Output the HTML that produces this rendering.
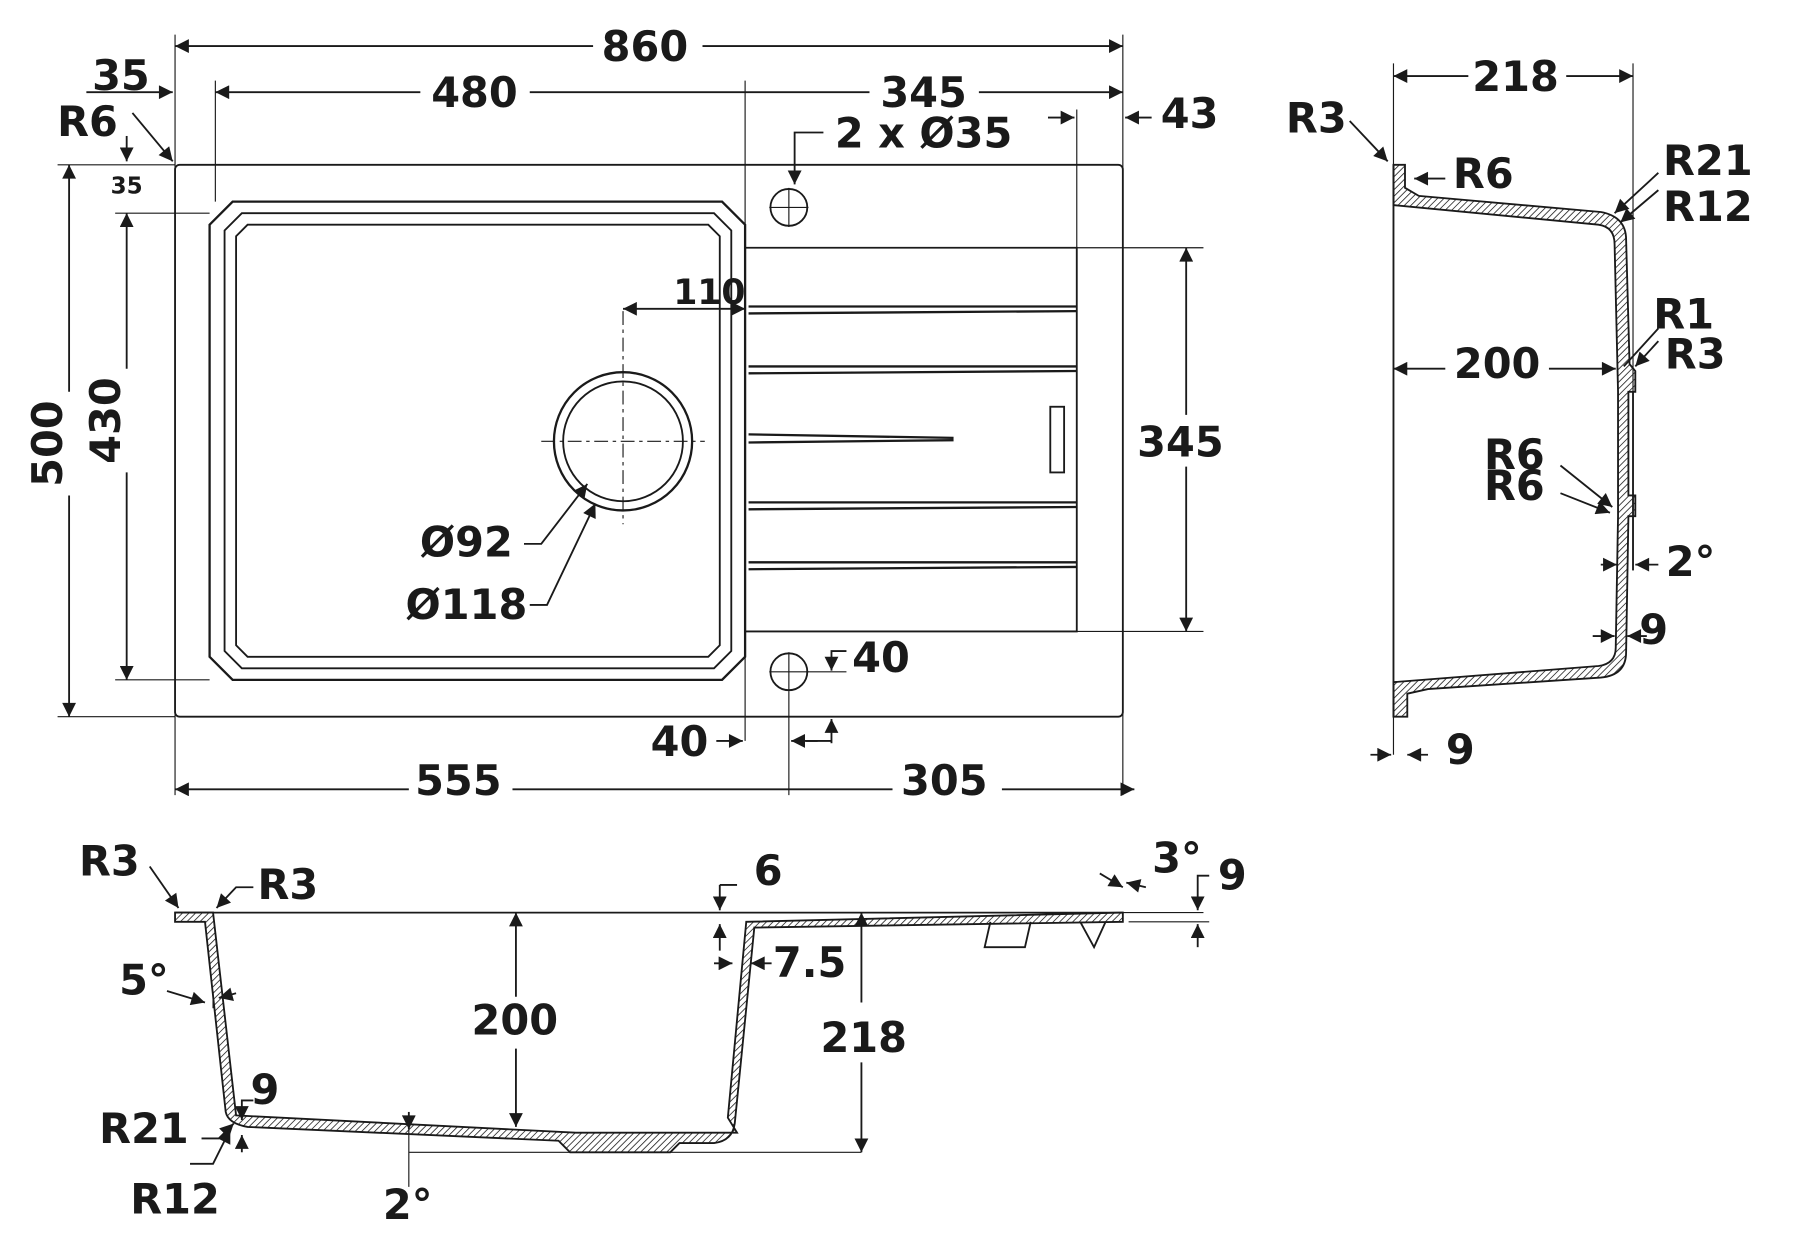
<!DOCTYPE html>
<html><head><meta charset="utf-8"><style>
html,body{margin:0;padding:0;background:#fff}
svg{display:block}
text{font-family:"DejaVu Sans","Liberation Sans",sans-serif;font-weight:bold;fill:#1a1a1a;font-size:36px}
</style></head><body>
<svg width="1800" height="1241" viewBox="0 0 1563 1077" preserveAspectRatio="none" xmlns="http://www.w3.org/2000/svg">
<defs>
<pattern id="h" width="4" height="4" patternUnits="userSpaceOnUse" patternTransform="rotate(45)"><line x1="0" y1="0" x2="0" y2="4" stroke="#222" stroke-width="1.4"/></pattern>
<marker id="a" viewBox="0 0 10 10" refX="10" refY="5" markerWidth="18" markerHeight="12" markerUnits="userSpaceOnUse" orient="auto-start-reverse"><path d="M0,0L10,5L0,10z" fill="#1a1a1a"/></marker>
</defs>
<g stroke="#1a1a1a" fill="none" stroke-width="1.6">
<!-- TOP VIEW -->
<rect x="152" y="143" width="823" height="479" rx="4"/>
<path d="M202,175H627L647,195V570L627,590H202L182,570V195Z" stroke-width="2"/>
<path d="M210,185H620L635,200V565L620,580H210L195,565V200Z"/>
<path d="M215,195H615L625,205V560L615,570H215L205,560V205Z"/>
<path d="M647,215H935V548H647"/>
<g stroke-width="2">
<path d="M650,266L935,266M650,272L935,270"/>
<path d="M650,318L935,318M650,324L935,322"/>
<path d="M650,377L828,380M650,384L828,382"/>
<path d="M650,436L935,436M650,442L935,440"/>
<path d="M650,488L935,488M650,494L935,492"/>
</g>
<rect x="912" y="353" width="12" height="57"/>
<circle cx="685" cy="180" r="16"/><circle cx="685" cy="583" r="16"/>
<path d="M668,180H702M685,163V197M668,583H702M685,566V600" stroke-width="1"/>
<circle cx="541" cy="383" r="60" stroke-width="2"/><circle cx="541" cy="383" r="52"/>
<path d="M541,270V455M470,383H612" stroke-dasharray="12,4,3,4" stroke-width="1"/>
<path d="M152,30V690M975,30V690M647,70V643M685,600V690M187,70V175M935,95V215M1210,55V655M1418,55V495" stroke-width="1"/>
<path d="M50,143H152M100,185H182M100,590H182M50,622H152M935,215H1045M935,548H1045M700,583H735" stroke-width="1"/>
<path d="M152,40H515M610,40H975" marker-start="url(#a)" marker-end="url(#a)"/>
<path d="M187,80H365M460,80H647M647,80H755M850,80H975" marker-start="url(#a)" marker-end="url(#a)"/>
<path d="M75,80H150" marker-end="url(#a)"/>
<path d="M910,102H933" marker-end="url(#a)"/><path d="M1000,102H977" marker-end="url(#a)"/>
<path d="M715,115H690V160" marker-end="url(#a)"/>
<path d="M115,98L150,140" marker-end="url(#a)"/>
<path d="M110,118V140" marker-end="url(#a)"/>
<path d="M60,143V340M60,430V622" marker-start="url(#a)" marker-end="url(#a)"/>
<path d="M110,185V320M110,410V590" marker-start="url(#a)" marker-end="url(#a)"/>
<path d="M1030,215V360M1030,405V548" marker-start="url(#a)" marker-end="url(#a)"/>
<path d="M541,268H647" marker-start="url(#a)" marker-end="url(#a)"/>
<path d="M455,472H470L510,420" marker-end="url(#a)"/>
<path d="M460,525H475L517,437" marker-end="url(#a)"/>
<path d="M735,565H722V582" marker-end="url(#a)"/><path d="M722,645V624" marker-end="url(#a)"/><path d="M700,643H722"/>
<path d="M622,643H645" marker-end="url(#a)"/><path d="M710,643H687" marker-end="url(#a)"/>
<path d="M152,685H355M445,685H685M685,685H775M870,685H985" marker-start="url(#a)" marker-end="url(#a)"/>
<!-- SIDE VIEW -->
<path d="M1210,66H1275M1360,66H1418" marker-start="url(#a)" marker-end="url(#a)"/>
<path d="M1210,320H1255M1345,320H1403" marker-start="url(#a)" marker-end="url(#a)"/>
<path d="M1172,105L1205,140" marker-end="url(#a)"/>
<path d="M1255,155H1228" marker-end="url(#a)"/>
<path d="M1440,150L1402,185" marker-end="url(#a)"/><path d="M1440,165L1407,193" marker-end="url(#a)"/>
<path d="M1440,285L1410,318"/><path d="M1440,296L1420,318" marker-end="url(#a)"/>
<path d="M1355,404L1400,440" marker-end="url(#a)"/><path d="M1355,428L1398,445" marker-end="url(#a)"/>
<path d="M1390,490H1404" marker-end="url(#a)"/><path d="M1440,490H1420" marker-end="url(#a)"/>
<path d="M1383,552H1402" marker-end="url(#a)"/><path d="M1430,552H1413" marker-end="url(#a)"/>
<path d="M1190,655H1208" marker-end="url(#a)"/><path d="M1240,655H1222" marker-end="url(#a)"/>
<path d="M1418,340V495"/>
<path d="M1210,143V622"/>
<path d="M1210,143H1220V163L1232,170L1390,184Q1412,188 1412,208L1415,316L1420,322V340H1414V430H1420V448H1414L1412,566Q1412,586 1390,588L1240,598L1222,602V622H1210V592L1388,578Q1403,576 1403,562L1405,448V340L1402,212Q1402,197 1388,195L1210,178Z" fill="url(#h)"/>
<!-- BOTTOM VIEW -->
<path d="M152,792H975" stroke-width="1.5"/>
<path d="M152,792H185L205,968L500,983L640,983L632,970L648,800L975,792V800L655,805L638,975Q636,990 620,992H590L582,1000H495L485,990L215,978Q198,975 196,965L178,800H152Z" fill="url(#h)"/>
<path d="M860,800L855,822H890L895,800M938,800L950,822L960,800"/>
<path d="M448,792V865M448,910V978" marker-start="url(#a)" marker-end="url(#a)"/>
<path d="M748,792V870M748,922V1000" marker-start="url(#a)" marker-end="url(#a)"/>
<path d="M355,1000H748M185,860V875M355,970V1030" stroke-width="1"/>
<path d="M625,768V790" marker-end="url(#a)"/><path d="M625,825V802" marker-end="url(#a)"/><path d="M640,768H625"/>
<path d="M620,836H636" marker-end="url(#a)"/><path d="M670,836H652" marker-end="url(#a)"/>
<path d="M130,752L155,788" marker-end="url(#a)"/><path d="M220,770H205L188,788" marker-end="url(#a)"/>
<path d="M145,860L178,870" marker-end="url(#a)"/><path d="M205,862L190,866" marker-end="url(#a)"/>
<path d="M220,955H210V972" marker-end="url(#a)"/><path d="M210,1000V985" marker-end="url(#a)"/>
<path d="M175,988H190L203,975" marker-end="url(#a)"/><path d="M165,1010H185L200,980" marker-end="url(#a)"/>
<path d="M355,965V980" marker-end="url(#a)"/>
<path d="M955,758L975,770" marker-end="url(#a)"/><path d="M995,770L978,766" marker-end="url(#a)"/>
<path d="M1050,760H1040V790" marker-end="url(#a)"/><path d="M1040,822V802" marker-end="url(#a)"/>
<path d="M980,800H1050M975,792H1045" stroke-width="1"/>
</g>
<g>
<text x="560" y="53" text-anchor="middle">860</text>
<text x="412" y="93" text-anchor="middle">480</text>
<text x="802" y="93" text-anchor="middle">345</text>
<text x="105" y="78" text-anchor="middle">35</text>
<text x="76" y="118" text-anchor="middle">R6</text>
<text x="110" y="168" text-anchor="middle" style="font-size:20px">35</text>
<text x="1033" y="111" text-anchor="middle">43</text>
<text x="802" y="128" text-anchor="middle">2 x Ø35</text>
<text x="616" y="264" text-anchor="middle" style="font-size:30px">110</text>
<text x="405" y="483" text-anchor="middle">Ø92</text>
<text x="405" y="537" text-anchor="middle">Ø118</text>
<text x="765" y="583" text-anchor="middle">40</text>
<text x="590" y="656" text-anchor="middle">40</text>
<text x="398" y="690" text-anchor="middle">555</text>
<text x="820" y="690" text-anchor="middle">305</text>
<text x="1025" y="396" text-anchor="middle">345</text>
<text transform="translate(54,385) rotate(-90)" text-anchor="middle">500</text>
<text transform="translate(104,365) rotate(-90)" text-anchor="middle">430</text>
<text x="1316" y="79" text-anchor="middle">218</text>
<text x="1143" y="115" text-anchor="middle">R3</text>
<text x="1288" y="163" text-anchor="middle">R6</text>
<text x="1483" y="152" text-anchor="middle">R21</text>
<text x="1483" y="192" text-anchor="middle">R12</text>
<text x="1462" y="285" text-anchor="middle">R1</text>
<text x="1472" y="320" text-anchor="middle">R3</text>
<text x="1300" y="328" text-anchor="middle">200</text>
<text x="1315" y="407" text-anchor="middle">R6</text>
<text x="1315" y="434" text-anchor="middle">R6</text>
<text x="1468" y="500" text-anchor="middle">2°</text>
<text x="1436" y="559" text-anchor="middle">9</text>
<text x="1268" y="663" text-anchor="middle">9</text>
<text x="95" y="760" text-anchor="middle">R3</text>
<text x="250" y="780" text-anchor="middle">R3</text>
<text x="667" y="768" text-anchor="middle">6</text>
<text x="1022" y="757" text-anchor="middle">3°</text>
<text x="1070" y="772" text-anchor="middle">9</text>
<text x="125" y="863" text-anchor="middle">5°</text>
<text x="703" y="848" text-anchor="middle">7.5</text>
<text x="447" y="898" text-anchor="middle">200</text>
<text x="750" y="913" text-anchor="middle">218</text>
<text x="230" y="958" text-anchor="middle">9</text>
<text x="125" y="992" text-anchor="middle">R21</text>
<text x="152" y="1053" text-anchor="middle">R12</text>
<text x="354" y="1058" text-anchor="middle">2°</text>
</g>
</svg>
</body></html>
